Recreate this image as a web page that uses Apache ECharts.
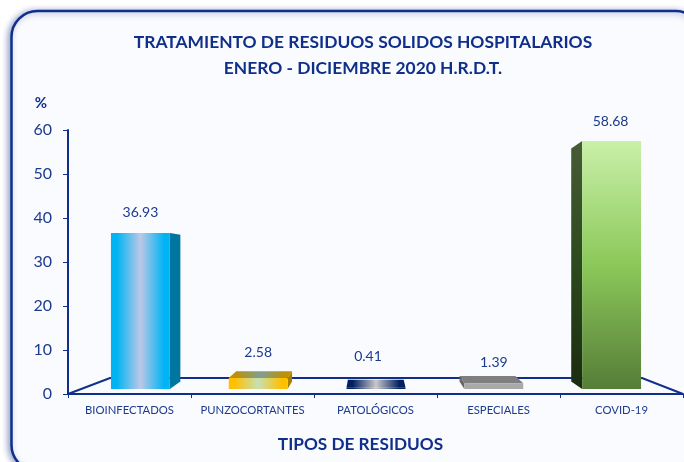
<!DOCTYPE html>
<html><head><meta charset="utf-8">
<style>html,body{margin:0;padding:0;background:#fff}#c{width:684px;height:462px}</style>
<script src="https://cdn.jsdelivr.net/npm/echarts@6/dist/echarts.min.js"></script>
</head><body><div id="c"></div>
<script>
const categories = ['BIOINFECTADOS','PUNZOCORTANTES','PATOLÓGICOS','ESPECIALES','COVID-19'];
const values = [36.93, 2.58, 0.41, 1.39, 58.68];
const valueLabels = ['36.93','2.58','0.41','1.39','58.68'];
const yTicks = [0,10,20,30,40,50,60];
const titleLines = ['TRATAMIENTO DE RESIDUOS SOLIDOS HOSPITALARIOS','ENERO - DICIEMBRE 2020 H.R.D.T.'];

const INK = '#0f2f8a', TXT = '#1c3a8e';
const h3 = (a,b,c) => ({type:'linear',x:0,y:0,x2:1,y2:0,colorStops:[
  {offset:0,color:a},{offset:.1,color:a},{offset:.5,color:b},{offset:.9,color:c},{offset:1,color:c}]});
const v3 = (a,b,c) => ({type:'linear',x:0,y:0,x2:0,y2:1,colorStops:[
  {offset:0,color:a},{offset:.5,color:b},{offset:1,color:c}]});
const faces = [
  {front:h3('#00b4f4','#bcc8e6','#00b4f4'), side:'#00759f', top:'#00759f'},
  {front:h3('#ffc000','#c6e0b4','#ffc000'), side:'#a87f00', top:h3('#bf9000','#7f9f90','#bf9000')},
  {front:h3('#002060','#c8c8c8','#002060'), side:'#001a4d', top:h3('#002060','#c8c8c8','#002060')},
  {front:'#a9a9a9', side:'#666666', top:'#7f7f7f'},
  {front:v3('#c9f0a8','#8bc85a','#567d38'), side:v3('#465c36','#2c4a1c','#1a2c10'), top:'#465c36'}
];
const labelNudge = [[0,-20],[0,-26],[-8,-31],[0,-21],[-1,-20]];
const VX = 372, VY = 264, KX = 0.052, KY = 0.06;
const back = (x,y) => [x + KX*(VX-x), y + KY*(VY-y)];

function renderBar(params, api){
  const i = params.dataIndex;
  const base = api.coord([api.value(0),0]);
  const head = api.coord([api.value(0),api.value(1)]);
  const w = api.size([1,0])[0]*0.5;
  const l = base[0]-w/2, r = base[0]+w/2, b = base[1], t = head[1];
  const f = faces[i];
  const poly = (pts,fill) => ({type:'polygon',shape:{points:pts},style:{fill:fill}});
  const kids = [];
  const sx = base[0] < VX ? r : l;
  if (Math.abs(base[0]-VX) > 30) kids.push(poly([[sx,t],back(sx,t),back(sx,b),[sx,b]],f.side));
  if (t > VY) kids.push(poly([[l,t],back(l,t),back(r,t),[r,t]],f.top));
  kids.push(poly([[l,t],[r,t],[r,b],[l,b]],f.front));
  kids.push({type:'text',style:{text:valueLabels[i],x:base[0]+labelNudge[i][0],y:t+labelNudge[i][1],
    align:'center',verticalAlign:'middle',fill:TXT,font:'14px Lato, "Open Sans", sans-serif'}});
  return {type:'group',children:kids};
}

const chart = echarts.init(document.getElementById('c'),null,{renderer:'canvas'});
chart.setOption({
  animation:false,
  backgroundColor:'#ffffff',
  textStyle:{fontFamily:'Lato, "Open Sans", sans-serif'},
  title:{text:titleLines.join('\n'),left:358,top:24,textAlign:'center',
    textStyle:{color:INK,fontSize:17.4,fontWeight:'bold',lineHeight:26.5,fontFamily:'Lato, "Open Sans", sans-serif'}},
  graphic:[
    {type:'rect',z:0,shape:{x:11.5,y:11,width:690,height:460,r:26},
      style:{fill:'#fafbfe',stroke:INK,lineWidth:2.5,shadowColor:'rgba(30,50,140,.45)',shadowBlur:6,shadowOffsetX:-2,shadowOffsetY:1}},
    {type:'polyline',z:1,shape:{points:[[68,394],[110,378],[642,378],[683,394]]},style:{fill:null,stroke:INK,lineWidth:2}}
  ],
  grid:[
    {left:68,right:1,top:130,bottom:68},
    {left:81.5,right:13.5,top:135.5,bottom:73}
  ],
  xAxis:[
    {type:'category',gridIndex:0,data:categories,
      axisLine:{lineStyle:{color:INK,width:2}},
      axisTick:{show:true,alignWithLabel:false,length:4,lineStyle:{color:INK,width:1}},
      axisLabel:{color:TXT,fontSize:11.3,interval:0,margin:11},
      name:'TIPOS DE RESIDUOS',nameLocation:'middle',nameGap:42,
      nameTextStyle:{color:INK,fontSize:17.2,fontWeight:'bold',padding:[0,30,0,0]}},
    {type:'category',gridIndex:1,data:categories,show:false}
  ],
  yAxis:[
    {type:'value',gridIndex:0,min:0,max:60,interval:10,
      axisLine:{show:true,lineStyle:{color:INK,width:2}},
      axisTick:{show:true,length:5,lineStyle:{color:INK,width:1}},
      splitLine:{show:false},
      axisLabel:{color:TXT,fontSize:16,margin:16,padding:[3,0,0,0],
        formatter:v=>yTicks.includes(v)?String(v):''},
      name:'%',nameLocation:'end',nameGap:19,
      nameTextStyle:{color:INK,fontSize:15,fontWeight:'bold',align:'right',padding:[0,21,0,0]}},
    {type:'value',gridIndex:1,min:0,max:60,show:false,splitLine:{show:false}}
  ],
  series:[{type:'custom',xAxisIndex:1,yAxisIndex:1,z:3,clip:false,renderItem:renderBar,
    encode:{x:0,y:1},data:values.map((v,i)=>[i,v])}]
});
</script></body></html>
